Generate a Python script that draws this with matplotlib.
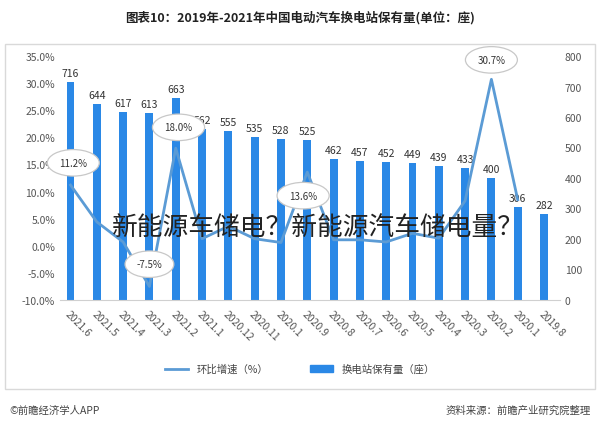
import matplotlib
matplotlib.use("Agg")
import matplotlib.pyplot as plt
from matplotlib.patches import Rectangle
from matplotlib.lines import Line2D
from matplotlib.ticker import FuncFormatter
import numpy as np

plt.rcParams['font.family'] = ['Noto Sans CJK SC', 'DejaVu Sans']

# data, in the order shown left to right
months = ["2021.6", "2021.5", "2021.4", "2021.3", "2021.2", "2021.1", "2020.12", "2020.11",
          "2020.1", "2020.9", "2020.8", "2020.7", "2020.6", "2020.5", "2020.4", "2020.3",
          "2020.2", "2020.1", "2019.8"]
stations = [716, 644, 617, 613, 663, 562, 555, 535, 528, 525, 462, 457, 452, 449, 439, 433,
            400, 306, 282]
growth = [11.2, 4.4, 0.7, -7.5, 18.0, 1.3, 3.6, 1.3, 0.6, 13.6, 1.1, 1.1, 0.7, 2.3, 1.4, 8.3,
          30.7, 8.5, np.nan]
callouts = {0: "11.2%", 3: "-7.5%", 4: "18.0%", 9: "13.6%", 16: "30.7%"}
callout_offset = {0: (2, 16), 3: (0, 16), 4: (2, 15), 9: (-3, -17), 16: (0, 14)}

bar_color = "#2a88e6"
line_color = "#5b9bd5"
grey = "#555555"

fig = plt.figure(figsize=(6, 4.31), dpi=100)

# outer frame
fig.patches.append(Rectangle((0.008, 1 - 390 / 431), 0.984, (390 - 45) / 431,
                             transform=fig.transFigure, fill=False,
                             edgecolor="#d9d9d9", linewidth=1.0))

fig.text(0.5, 1 - 18 / 431, "图表10：2019年-2021年中国电动汽车换电站保有量(单位：座)",
         ha="center", va="center", fontsize=9, fontweight="bold", color="#222222")

ax = fig.add_axes([0.1, 1 - 301 / 431, 0.833, (301 - 57) / 431])  # percent axis (left)
ax2 = ax.twinx()  # count axis (right)

x = np.arange(len(months))
ax2.bar(x, stations, width=0.3, color=bar_color, zorder=2)
for xi, v in zip(x, stations):
    ax2.text(xi, v + 12, str(v), ha="center", va="bottom", fontsize=7.5, color="#333333")
ax2.set_ylim(0, 800)
ax2.set_yticks(np.arange(0, 801, 100))

ax.plot(x, growth, color=line_color, linewidth=2, zorder=3)
ax.set_zorder(ax2.get_zorder() + 1)
ax.patch.set_visible(False)
ax.set_ylim(-10, 35)
ax.set_yticks(np.arange(-10, 36, 5))
ax.yaxis.set_major_formatter(FuncFormatter(lambda v, p: f"{v:.1f}%"))
ax.set_xlim(-0.4, 18.6)
ax.set_xticks(x)
ax.set_xticklabels(months, rotation=-45, ha="left", rotation_mode="anchor", fontsize=7.5,
                   color=grey)

for i, txt in callouts.items():
    ax.annotate(txt, (x[i], growth[i]), xytext=callout_offset[i], textcoords="offset points",
                ha="center", va="center", fontsize=7, color="#333333",
                bbox=dict(boxstyle="ellipse,pad=0.45", fc="white", ec="#c8c8c8", lw=0.9))

for a in (ax, ax2):
    for s in a.spines.values():
        s.set_visible(False)
    a.tick_params(length=0, labelsize=7.5, colors=grey)
ax.spines["bottom"].set_visible(True)
ax.spines["bottom"].set_color("#d0d0d0")
ax.tick_params(axis="x", pad=6)

handles = [Line2D([0], [0], color=line_color, lw=2),
           Rectangle((0, 0), 1, 1, color=bar_color)]
fig.legend(handles, ["环比增速（%）", "换电站保有量（座）"], loc="center",
           bbox_to_anchor=(0.5, 1 - 370 / 431), ncol=2, frameon=False, fontsize=7.5,
           handlelength=2.2, columnspacing=4, labelcolor="#444444")

fig.text(0.015, 1 - 411 / 431, "©前瞻经济学人APP", ha="left", va="center", fontsize=7.5,
         color="#444444")
fig.text(0.985, 1 - 411 / 431, "资料来源：前瞻产业研究院整理", ha="right", va="center",
         fontsize=7.5, color="#444444")

fig.text(0.53, 1 - 228 / 431, "新能源车储电？新能源汽车储电量？", ha="center", va="center",
         fontsize=18.5, color="#222222")

fig.savefig("out.png", dpi=100)
